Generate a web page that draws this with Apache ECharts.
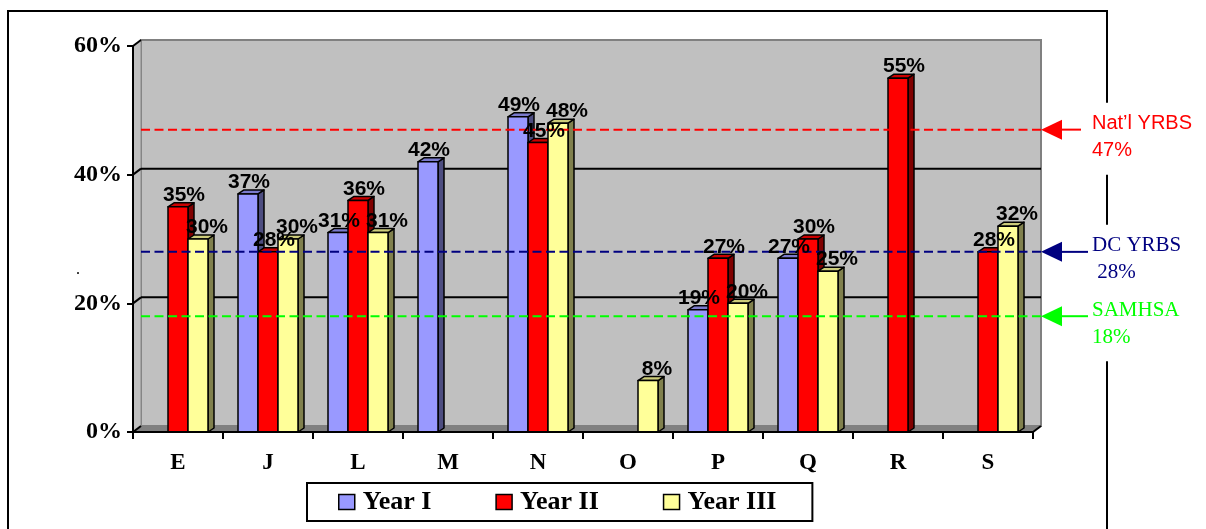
<!DOCTYPE html>
<html>
<head>
<meta charset="utf-8">
<title>Survey results by site</title>
<script src="https://cdn.jsdelivr.net/npm/echarts@6/dist/echarts.min.js"></script>
<style>
  html, body { margin: 0; padding: 0; background: #ffffff; }
  #main { width: 1206px; height: 529px; }
</style>
</head>
<body>
<div id="main"></div>
<script>
// Sites and yearly percentages (null = no result that year)
const categories = ['E', 'J', 'L', 'M', 'N', 'O', 'P', 'Q', 'R', 'S'];
const yearI   = [null, 37, 31, 42, 49, null, 19, 27, null, null];
const yearII  = [35, 28, 36, null, 45, null, 27, 30, 55, 28];
const yearIII = [30, 30, 31, null, 48, 8, 20, 25, null, 32];
const seriesNames = ['Year I', 'Year II', 'Year III'];
const yTicks = [0, 20, 40, 60];

// Benchmark lines
const refNames = ['Nat\u2019l YRBS', 'DC YRBS', 'SAMHSA'];
const refValues = [47, 28, 18];
const refValueText = ['47%', ' 28%', '18%'];

// ---- styling ----
const SERIF = '"Liberation Serif", "Times New Roman", Times, serif';
const SANS = '"Liberation Sans", Arial, Helvetica, sans-serif';
const BAR_W = 20;          // column width in px
const BDX = 6, BDY = -4;   // column depth
const WDX = 8, WDY = -6;   // wall depth
const labelNudge = [-2, 3, 6];
const palette = [
  { front: '#9999FF', top: '#7A7ACC', side: '#4D4D80' },
  { front: '#FF0000', top: '#CC0000', side: '#800000' },
  { front: '#FFFF99', top: '#CCCC7A', side: '#80804D' }
];
const refColors = ['#FF0000', '#000080', '#00FF00'];
const refFonts = ['20px ' + SANS, '21px ' + SERIF, '21px ' + SERIF];
const refShaft = [40, 47, 47];

const chart = echarts.init(document.getElementById('main'), null, { renderer: 'canvas' });

// Gray 3D box: back wall, left wall, floor and gridlines
function renderFrame(params, api) {
  const cs = params.coordSys;
  const x = cs.x, y = cs.y, w = cs.width, h = cs.height;
  const kids = [];
  kids.push({ type: 'rect', shape: { x: x + WDX, y: y + WDY, width: w, height: h },
    style: { fill: '#C0C0C0', stroke: '#808080', lineWidth: 2 } });
  kids.push({ type: 'polygon',
    shape: { points: [[x, y], [x + WDX, y + WDY], [x + WDX, y + h + WDY], [x, y + h]] },
    style: { fill: '#C0C0C0', stroke: '#8A8A8A', lineWidth: 1 } });
  kids.push({ type: 'polygon',
    shape: { points: [[x, y + h], [x + WDX, y + h + WDY], [x + w + WDX, y + h + WDY], [x + w, y + h]] },
    style: { fill: '#808080', stroke: '#808080', lineWidth: 1 } });
  yTicks.forEach(function (t) {
    if (t <= yTicks[0] || t >= yTicks[yTicks.length - 1]) return;
    const yv = api.coord([0, t])[1];
    kids.push({ type: 'line', shape: { x1: x + WDX, y1: yv + WDY, x2: x + w + WDX, y2: yv + WDY },
      style: { stroke: '#000', lineWidth: 2 } });
    kids.push({ type: 'line', shape: { x1: x, y1: yv, x2: x + WDX, y2: yv + WDY },
      style: { stroke: '#000', lineWidth: 2 } });
  });
  kids.push({ type: 'line', shape: { x1: x, y1: y, x2: x + WDX, y2: y + WDY },
    style: { stroke: '#000', lineWidth: 2 } });
  kids.push({ type: 'line', shape: { x1: x, y1: y + h, x2: x + WDX, y2: y + h + WDY },
    style: { stroke: '#000', lineWidth: 2 } });
  kids.push({ type: 'line', shape: { x1: x + w, y1: y + h, x2: x + w + WDX, y2: y + h + WDY },
    style: { stroke: '#000', lineWidth: 2 } });
  return { type: 'group', children: kids, silent: true };
}

// Column geometry for series s at category i
function columnBox(s, api) {
  const v = api.value(1);
  if (v == null || isNaN(v)) return null;
  const i = api.value(0);
  const base = api.coord([i, 0]);
  const top = api.coord([i, v]);
  return { v: v, x0: base[0] + (s - 1) * BAR_W - BAR_W / 2, y0: top[1], yb: base[1] };
}

// One 3D column
function barRenderer(s) {
  return function (params, api) {
    const b = columnBox(s, api);
    if (!b) return null;
    const x0 = b.x0, y0 = b.y0, yb = b.yb;
    const c = palette[s];
    const edge = { stroke: '#000', lineWidth: 1.5, lineJoin: 'round' };
    return {
      type: 'group',
      children: [
        { type: 'polygon', shape: { points: [[x0 + BAR_W, y0], [x0 + BAR_W + BDX, y0 + BDY], [x0 + BAR_W + BDX, yb + BDY], [x0 + BAR_W, yb]] },
          style: Object.assign({ fill: c.side }, edge) },
        { type: 'polygon', shape: { points: [[x0, y0], [x0 + BDX, y0 + BDY], [x0 + BAR_W + BDX, y0 + BDY], [x0 + BAR_W, y0]] },
          style: Object.assign({ fill: c.top }, edge) },
        { type: 'rect', shape: { x: x0, y: y0, width: BAR_W, height: yb - y0 },
          style: Object.assign({ fill: c.front }, edge) }
      ]
    };
  };
}

// Value label above a column
function labelRenderer(s) {
  return function (params, api) {
    const b = columnBox(s, api);
    if (!b) return null;
    return { type: 'text', x: b.x0 + BAR_W / 2 + BDX / 2 + labelNudge[s], y: b.y0 - 1,
      style: { text: b.v + '%', font: 'bold 21px ' + SANS, fill: '#000', align: 'center', verticalAlign: 'bottom' } };
  };
}

// Dashed benchmark line, arrow and caption
function renderRef(params, api) {
  const cs = params.coordSys;
  const k = params.dataIndex;
  const v = api.value(1);
  const yv = api.coord([0, v])[1];
  const xl = cs.x + WDX, xr = cs.x + cs.width + WDX;
  const col = refColors[k];
  return {
    type: 'group',
    children: [
      { type: 'rect', shape: { x: 1089, y: yv - 27, width: 112, height: 72 }, style: { fill: '#fff' } },
      { type: 'line', shape: { x1: xl, y1: yv, x2: xr, y2: yv },
        style: { stroke: col, lineWidth: 2, lineDash: [9, 4.5] } },
      { type: 'polygon', shape: { points: [[xr, yv], [xr + 21, yv - 10], [xr + 21, yv + 10]] },
        style: { fill: col } },
      { type: 'line', shape: { x1: xr + 20, y1: yv, x2: xr + refShaft[k], y2: yv },
        style: { stroke: col, lineWidth: 2 } },
      { type: 'text', x: 1092, y: yv - 6,
        style: { text: refNames[k], font: refFonts[k], fill: col, align: 'left', verticalAlign: 'middle' } },
      { type: 'text', x: 1092, y: yv + 21,
        style: { text: refValueText[k], font: refFonts[k], fill: col, align: 'left', verticalAlign: 'middle' } }
    ]
  };
}

const yearData = [yearI, yearII, yearIII].map(function (vals) {
  return vals.map(function (v, i) { return [i, v == null ? NaN : v]; });
});

const yearSeries = yearData.map(function (data, s) {
  return {
    type: 'custom',
    name: seriesNames[s],
    z: 3 + s,
    renderItem: barRenderer(s),
    itemStyle: { color: palette[s].front, borderColor: '#000', borderWidth: 1.5 },
    encode: { x: 0, y: 1 },
    data: data
  };
});

const labelSeries = yearData.map(function (data, s) {
  return {
    type: 'custom',
    name: seriesNames[s] + ' labels',
    z: 9,
    silent: true,
    renderItem: labelRenderer(s),
    encode: { x: 0, y: 1 },
    data: data
  };
});

const option = {
  animation: false,
  backgroundColor: '#ffffff',
  grid: { left: 133, right: 173, top: 46, bottom: 97, containLabel: false },
  xAxis: {
    type: 'category',
    data: categories,
    boundaryGap: true,
    axisLine: { show: true, lineStyle: { color: '#000', width: 2 } },
    axisTick: { show: true, length: 7, lineStyle: { color: '#000', width: 2 } },
    axisLabel: { color: '#000', fontFamily: SERIF, fontWeight: 'bold', fontSize: 23, margin: 20 },
    splitLine: { show: false },
    z: 10
  },
  yAxis: {
    type: 'value',
    min: yTicks[0],
    max: yTicks[yTicks.length - 1],
    interval: yTicks[1] - yTicks[0],
    axisLine: { show: true, lineStyle: { color: '#000', width: 2 } },
    axisTick: { show: true, length: 6, lineStyle: { color: '#000', width: 2 } },
    axisLabel: { color: '#000', fontFamily: SERIF, fontWeight: 'bold', fontSize: 24, margin: 11,
      formatter: '{value}%' },
    splitLine: { show: false },
    z: 10
  },
  legend: {
    data: seriesNames,
    left: 307,
    top: 483,
    orient: 'horizontal',
    icon: 'rect',
    itemWidth: 16,
    itemHeight: 15,
    itemGap: 64,
    padding: [6, 36, 6, 31],
    backgroundColor: '#ffffff',
    borderColor: '#000',
    borderWidth: 2,
    borderRadius: 0,
    itemStyle: { borderColor: '#000', borderWidth: 1.5 },
    textStyle: { color: '#000', fontFamily: SERIF, fontWeight: 'bold', fontSize: 26, padding: [0, 0, 0, 3] },
    selectedMode: false
  },
  graphic: [
    { type: 'rect', z: 0, silent: true, shape: { x: 8, y: 11, width: 1099, height: 540 },
      style: { fill: null, stroke: '#000', lineWidth: 2 } },
    { type: 'text', z: 0, silent: true, x: 76, y: 262, style: { text: '.', font: '16px ' + SERIF, fill: '#000' } }
  ],
  series: [
    { type: 'custom', name: 'frame', z: 1, silent: true, renderItem: renderFrame,
      encode: { x: 0, y: 1 }, data: [[0, 0]] }
  ].concat(yearSeries).concat([
    { type: 'custom', name: 'benchmarks', z: 8, silent: true, renderItem: renderRef,
      encode: { x: 0, y: 1 }, data: refValues.map(function (v) { return [0, v]; }) }
  ]).concat(labelSeries)
};

chart.setOption(option);
</script>
</body>
</html>
